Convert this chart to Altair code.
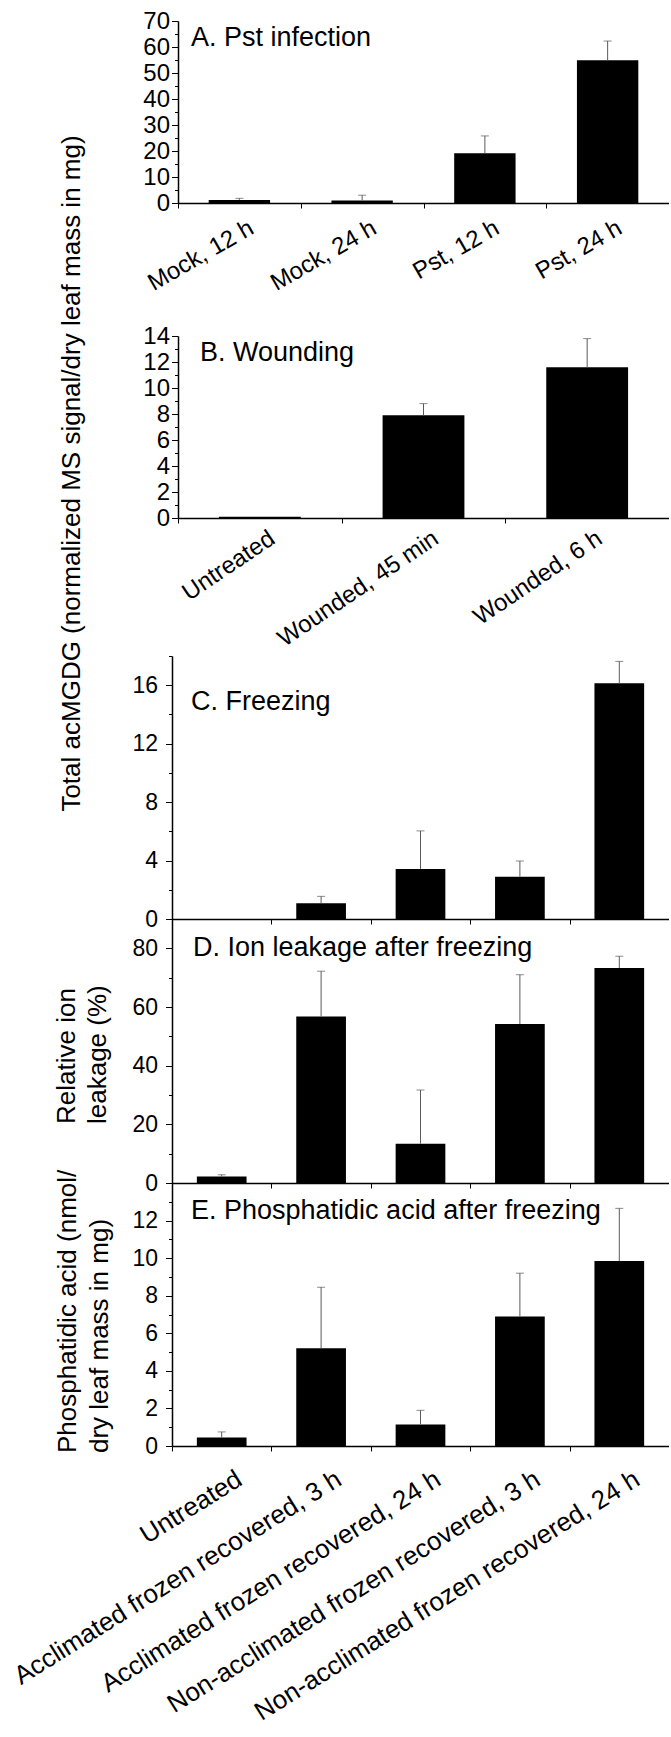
import math

import altair as alt
import pandas as pd

FONT = "Liberation Sans"
INK = "black"
ERR = "#5a5a5a"

# ---- values (means and standard deviations) ----
pst_groups = ["Mock, 12 h", "Mock, 24 h", "Pst, 12 h", "Pst, 24 h"]
pst_mean = [1.2, 1.0, 19.1, 54.9]
pst_sd = [0.6, 2.0, 6.7, 7.4]

wound_groups = ["Untreated", "Wounded, 45 min", "Wounded, 6 h"]
wound_mean = [0.1, 7.9, 11.6]
wound_sd = [0.0, 0.9, 2.2]

freeze_groups = [
    "Untreated",
    "Acclimated frozen recovered, 3 h",
    "Acclimated frozen recovered, 24 h",
    "Non-acclimated frozen recovered, 3 h",
    "Non-acclimated frozen recovered, 24 h",
]
freeze_mean = [0.0, 1.07, 3.43, 2.9, 16.13]
freeze_sd = [0.0, 0.48, 2.6, 1.07, 1.5]
leak_mean = [2.2, 56.8, 13.4, 54.2, 73.3]
leak_sd = [0.6, 15.4, 18.3, 16.8, 4.0]
pa_mean = [0.45, 5.2, 1.15, 6.9, 9.85]
pa_sd = [0.3, 3.25, 0.75, 2.3, 2.8]

panel_titles = [
    "A. Pst infection",
    "B. Wounding",
    "C. Freezing",
    "D. Ion leakage after freezing",
    "E. Phosphatidic acid after freezing",
]
y_title_main = "Total acMGDG (normalized MS signal/dry leaf mass in mg)"
y_title_leak = ["Relative ion", "leakage (%)"]
y_title_pa = ["Phosphatidic acid (nmol/", "dry leaf mass in mg)"]

PLOT_W = 497  # plot width shared by all panels


def text_layer(text, x, y, size, angle=0, align="left", baseline="alphabetic"):
    return alt.Chart(pd.DataFrame({"t": [text]})).mark_text(
        align=align, baseline=baseline, angle=angle, font=FONT,
        fontSize=size, color=INK
    ).encode(x=alt.value(x), y=alt.value(y), text="t:N")


def bar_panel(groups, mean, sd, y_max, minor, major, plot_h, gap, title, title_at,
              x_start=0, show_labels=True, label_size=24, label_angle=-30,
              label_shift=(6, 13), tick_size=24, tick_pad=2, top_label=True,
              extra=()):
    n = len(groups)
    step = (PLOT_W - x_start) / n
    table = pd.DataFrame({"group": groups, "mean": mean, "sd": sd})
    table["upper"] = table["mean"] + table["sd"]

    x_axis = alt.Axis(
        title=None, labels=False, grid=False, domainColor=INK, domainWidth=1.5,
        tickColor=INK, tickWidth=1, tickSize=5, bandPosition=0,
        tickOffset=-0.25 * step,
    )
    x = alt.X("group:N", sort=groups, title=None, axis=x_axis,
              scale=alt.Scale(domain=groups, range=[x_start, PLOT_W],
                              paddingInner=0.5, paddingOuter=0.25))

    label_max = y_max if top_label else y_max - 1
    axis_kw = dict(
        title=None, grid=False, values=list(range(0, y_max + 1, minor)),
        labelExpr=f"datum.value % {major} === 0 && datum.value <= {label_max} ? datum.label : ''",
        tickSize={"condition": {"test": f"datum.value % {major} === 0", "value": 6.5}, "value": 3.5},
        tickColor=INK, tickWidth=1, domainColor=INK, domainWidth=1.5,
        labelFont=FONT, labelFontSize=tick_size, labelColor=INK, labelPadding=tick_pad,
        labelOverlap=False, labelFlush=False, labelBound=False,
    )
    if x_start:
        axis_kw["offset"] = -x_start
    y_scale = alt.Scale(domain=[0, y_max], range=[gap + plot_h, gap], nice=False, zero=False)
    y_axis = alt.Axis(**axis_kw)

    base = alt.Chart(table)
    bars = base.mark_bar(color=INK).encode(
        x=x, y=alt.Y("mean:Q", scale=y_scale, axis=y_axis))
    whisker = base.transform_filter("datum.sd > 0").mark_rule(
        color=ERR, strokeWidth=1).encode(
        x=x, y=alt.Y("mean:Q", scale=y_scale, axis=y_axis), y2="upper:Q")
    cap = base.transform_filter("datum.sd > 0").mark_tick(
        color=ERR, thickness=1, size=8).encode(
        x=x, y=alt.Y("upper:Q", scale=y_scale, axis=y_axis))

    layers = [bars, whisker, cap]
    if show_labels:
        # horizontal nudge of the label anchor, expressed in the rotated text frame
        a = math.radians(label_angle)
        shift = label_shift[0]
        layers.append(base.mark_text(
            angle=360 + label_angle, align="right", baseline="top",
            dx=shift * math.cos(a), dy=-shift * math.sin(a),
            font=FONT, fontSize=label_size, color=INK).encode(
            x=x, y=alt.value(gap + plot_h + label_shift[1]), text="group:N"))
    layers.append(text_layer(title, title_at[0], gap + title_at[1], 27))
    layers.extend(extra)
    return alt.layer(*layers).properties(width=PLOT_W, height=gap + plot_h)


# page anchor: fixes the plot origin at (171, 20)
anchor = alt.Chart(pd.DataFrame({"k": [0]})).mark_rule(
    color="white", strokeWidth=0.5).encode(
    x=alt.value(-171), x2=alt.value(-170.5), y=alt.value(-20), y2=alt.value(-19.5))

panel_a = bar_panel(pst_groups, pst_mean, pst_sd, 70, 5, 10, 182, 0,
                    panel_titles[0], (19, 25), x_start=6, label_angle=-30,
                    label_shift=(6.5, 13), extra=[anchor])

panel_b = bar_panel(wound_groups, wound_mean, wound_sd, 14, 1, 2, 182, 133,
                    panel_titles[1], (28, 25), x_start=6, label_angle=-34,
                    label_shift=(6, 8.5),
                    extra=[text_layer(y_title_main, -92.5, 270.5, 26, angle=270,
                                      align="center")])

panel_c = bar_panel(freeze_groups, freeze_mean, freeze_sd, 18, 2, 4, 263, 138,
                    panel_titles[2], (19, 54), show_labels=False,
                    tick_size=23, tick_pad=8)

panel_d = bar_panel(freeze_groups, leak_mean, leak_sd, 90, 10, 20, 264, 0,
                    panel_titles[3], (21, 37), show_labels=False,
                    tick_size=23, tick_pad=8,
                    extra=[text_layer(y_title_leak[0], -97.4, 205, 26, angle=270),
                           text_layer(y_title_leak[1], -66.4, 205, 26, angle=270)])

panel_e = bar_panel(freeze_groups, pa_mean, pa_sd, 14, 1, 2, 263, 0,
                    panel_titles[4], (19, 36), label_size=26, label_angle=-32,
                    label_shift=(11, 20), tick_size=23, tick_pad=8, top_label=False,
                    extra=[text_layer(y_title_pa[0], -96.4, 270, 26, angle=270),
                           text_layer(y_title_pa[1], -64.3, 270, 26, angle=270)])

chart = alt.vconcat(
    panel_a, panel_b, panel_c, panel_d, panel_e, spacing=0, bounds="flush"
).properties(padding=0, background="white").configure_view(stroke=None)

chart.save("out.html", embed_options={"renderer": "svg", "actions": False})
